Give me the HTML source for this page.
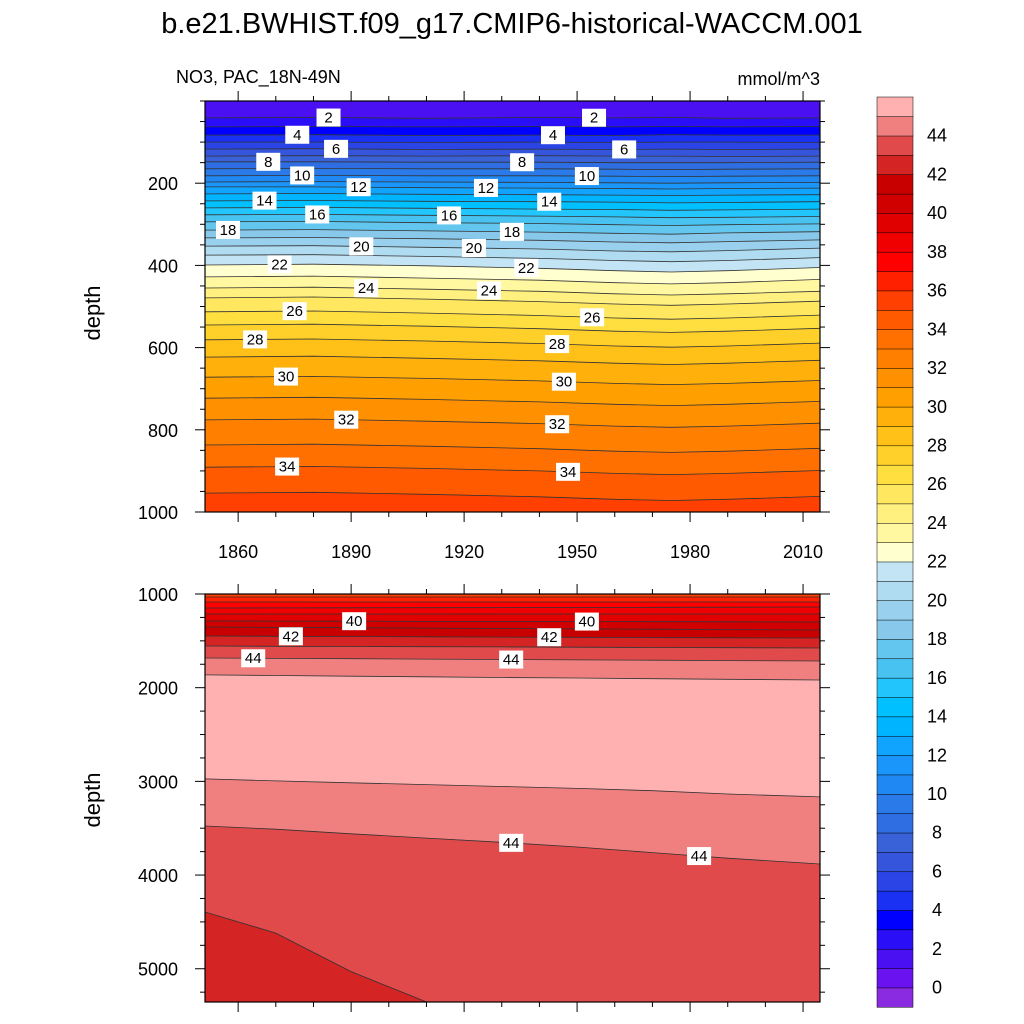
<!DOCTYPE html>
<html><head><meta charset="utf-8"><style>
body{margin:0;background:#fff;}
svg{display:block;font-family:"Liberation Sans",sans-serif;}
</style></head><body>
<svg id="chart" width="1024" height="1024" viewBox="0 0 1024 1024" xmlns="http://www.w3.org/2000/svg">
<text x="512" y="33" text-anchor="middle" font-size="29">b.e21.BWHIST.f09_g17.CMIP6-historical-WACCM.001</text>
<text x="176" y="83" font-size="18">NO3, PAC_18N-49N</text>
<text x="820" y="85" text-anchor="end" font-size="18">mmol/m^3</text>
<text transform="translate(100,313) rotate(-90)" text-anchor="middle" font-size="22">depth</text>
<text transform="translate(100,800) rotate(-90)" text-anchor="middle" font-size="22">depth</text>
<g id="gtop"></g><g id="gbot"></g><g id="cbar"></g>
</svg>
<script>
// ---- data ----
const topYears=[1850,1880,1910,1940,1960,1975,1990,2014];
const topLevels=[2,3,4,5,6,7,8,9,10,11,12,13,14,15,16,17,18,19,20,21,22,23,24,25,26,27,28,29,30,31,32,33,34,35];
const topDepths=[
[41,40,42,40,41,40,42,41],[63,62,63,62,63,62,63,62],[83,82,84,83,84,82,83,83],[100,100,101,100,101,100,100,101],
[117,116,118,117,118,117,118,117],[134,133,134,133,134,134,135,134],[148,148,149,149,150,150,150,149],[165,164,165,165,166,167,166,165],
[182,181,182,182,183,184,183,182],[197,196,197,198,199,200,199,198],[209,209,211,212,213,214,213,212],[226,225,227,228,229,230,229,228],
[243,242,244,245,246,248,247,245],[260,259,261,263,264,266,265,263],[277,276,278,280,282,284,283,281],[294,293,296,298,301,303,301,299],
[314,313,316,319,322,324,321,318],[333,332,335,339,343,345,342,338],[353,352,356,360,365,367,364,358],[375,374,378,383,388,391,388,381],
[399,397,401,407,413,416,413,405],[428,426,431,436,442,445,442,434],[455,453,458,463,469,472,469,463],[479,477,482,488,494,497,494,487],
[513,511,516,522,528,531,528,521],[545,543,548,554,560,563,560,553],[581,579,584,590,596,599,596,589],[623,621,626,632,638,641,638,631],
[672,670,675,681,687,690,687,680],[723,721,726,732,738,741,738,731],[776,774,779,785,791,794,791,784],[837,835,840,846,852,855,852,845],
[891,889,894,900,906,909,906,899],[954,952,957,963,969,972,969,962]];
const botYears=[1850,1870,1890,1910,1930,1950,1970,1990,2014];
const botLevels=[36,37,38,39,40,41,42,43,44,45];
const botDepths=[
[1032,1032,1032,1032,1032,1032,1032,1032,1032],[1085,1085,1085,1085,1085,1085,1085,1085,1085],
[1149,1148,1147,1146,1145,1144,1142,1141,1139],[1213,1213,1213,1213,1213,1213,1213,1213,1213],
[1288,1289,1290,1292,1293,1294,1296,1297,1299],[1352,1356,1360,1364,1368,1372,1376,1380,1384],
[1448,1451,1454,1457,1460,1462,1465,1467,1470],[1555,1558,1560,1563,1565,1568,1571,1573,1576],
[1683,1687,1691,1695,1699,1703,1707,1711,1715],[1864,1870,1877,1884,1891,1897,1904,1911,1918]];
const deep45=[2974,2995,3015,3035,3055,3075,3100,3135,3166];
const deep44=[3476,3510,3560,3605,3650,3700,3760,3820,3882];
const deep43=[4394,4620,5030,5354,5500,5500,5500,5500,5500];
const cbarLabels=[0,2,4,6,8,10,12,14,16,18,20,22,24,26,28,30,32,34,36,38,40,42,44];
const topLabelLevels=[2,2,4,4,6,6,8,8,10,10,12,12,14,14,16,16,18,18,20,20,22,22,24,24,26,26,28,28,30,30,32,32,34,34];
const topLabelYears=[1884,1954.5,1875.7,1943.6,1886,1962.5,1868,1935.4,1877,1952.6,1892,1925.8,1867,1942.6,1881,1916,1857.3,1932.7,1892.7,1922.6,1871,1936.5,1894,1926.6,1875,1954,1864.5,1944.7,1872.7,1946.5,1888.7,1944.7,1873,1947.6];
const botLabelLevels=[40,40,42,42,44,44];
const botLabelYears=[1890.8,1952.6,1874,1942.6,1864,1932.5];
const deepLabelYears=[1932.5,1982.4];
const colors=["#8a2be2","#6a12f0","#4a10f2","#2a0ef8","#0000ff","#1a30f2","#2a44e6","#3556dc","#3a62d8","#2e6ee2","#2a7aea","#2088f2","#1a96fa","#10a4ff","#00b4ff","#00c0ff","#22c6fc","#48c2f0","#62c6ef","#88c8ea","#98d0ee","#b0dcf2","#c2e4f4","#ffffd0","#fff8a0","#fff080","#ffe860","#ffde40","#ffd02a","#ffc018","#ffb00a","#ffa000","#ff9000","#ff8000","#ff7000","#ff5a00","#ff4000","#ff2000","#ff0000","#f00000","#e00000","#d00000","#c80000","#d42424","#e04a4a","#f08080","#ffb0b0"];

const NS="http://www.w3.org/2000/svg";
function el(p,t,a){const e=document.createElementNS(NS,t);for(const k in a)e.setAttribute(k,a[k]);p.appendChild(e);return e;}
const X0=205,X1=820,Y0yr=1851.2,Y1yr=2014.5;
function xs(y){return X0+(y-Y0yr)/(Y1yr-Y0yr)*(X1-X0);}
const pTop={y0:101,y1:512,d0:0,d1:1000}, pBot={y0:594,y1:1002,d0:1000,d1:5355};
function ys(p,d){return p.y0+(d-p.d0)/(p.d1-p.d0)*(p.y1-p.y0);}
function interp(xsArr,vals,x){for(let i=0;i<xsArr.length-1;i++){if(x<=xsArr[i+1]){const t=(x-xsArr[i])/(xsArr[i+1]-xsArr[i]);return vals[i]+t*(vals[i+1]-vals[i]);}}return vals[vals.length-1];}
function ext(years){return [Y0yr].concat(years.slice(1,-1)).concat([Y1yr]);}
function pts(p,years,d){const yy=ext(years);return yy.map((y,i)=>xs(y).toFixed(1)+","+ys(p,d[i]).toFixed(1));}
function band(g,p,years,a,b,c,name){
  const poly=el(g,"polygon",{points:pts(p,years,a).concat(pts(p,years,b).reverse()).join(" "),fill:c,stroke:c,"stroke-width":0.5});
  
  
}
function line(g,p,years,d,name){
  const l=el(g,"polyline",{points:pts(p,years,d).join(" "),fill:"none",stroke:"#333","stroke-width":0.8});
  
  
}
function label(g,p,years,d,yr,txt){
  const x=xs(yr),y=ys(p,interp(years,d,yr));
  const r=el(g,"rect",{x:x-12,y:y-9,width:24,height:18,fill:"#fff"});
  
  
  const t=el(g,"text",{x:x,y:y+5,"text-anchor":"middle","font-size":15});
  
  
  t.textContent=txt;
}
function clip(id,p){const c=el(document.getElementById("chart"),"clipPath",{id:id});el(c,"rect",{x:X0,y:p.y0,width:X1-X0,height:p.y1-p.y0});}
clip("ct",pTop);clip("cb",pBot);

// ---- top panel ----
const gT=document.getElementById("gtop");
const gTc=el(gT,"g",{"clip-path":"url(#ct)"});
const n8=topYears.map(()=>-50), n8b=topYears.map(()=>1100);
band(gTc,pTop,topYears,n8,topDepths[0],colors[2],"band-1");
for(let i=0;i<topLevels.length-1;i++)band(gTc,pTop,topYears,topDepths[i],topDepths[i+1],colors[topLevels[i]+1],"band-"+topLevels[i]);
band(gTc,pTop,topYears,topDepths[topDepths.length-1],n8b,colors[36],"band-35");
topLevels.forEach((L,i)=>line(gTc,pTop,topYears,topDepths[i],"contour-"+L));
topLabelLevels.forEach((L,i)=>label(gT,pTop,topYears,topDepths[topLevels.indexOf(L)],topLabelYears[i],String(L)));

// ---- bottom panel ----
const gB=document.getElementById("gbot");
const gBc=el(gB,"g",{"clip-path":"url(#cb)"});
const m9=botYears.map(()=>900), m9b=botYears.map(()=>6000);
band(gBc,pBot,botYears,m9,botDepths[0],colors[36],"band-35-deep");
for(let i=0;i<botLevels.length-1;i++)band(gBc,pBot,botYears,botDepths[i],botDepths[i+1],colors[botLevels[i]+1],"band-"+botLevels[i]);
band(gBc,pBot,botYears,botDepths[botDepths.length-1],deep45,colors[46],"band-above-45");
band(gBc,pBot,botYears,deep45,deep44,colors[45],"band-44-deep");
band(gBc,pBot,botYears,deep44,deep43,colors[44],"band-43-deep");
band(gBc,pBot,botYears,deep43,m9b,colors[43],"band-42-deep");
botLevels.forEach((L,i)=>line(gBc,pBot,botYears,botDepths[i],"contour-"+L));
line(gBc,pBot,botYears,deep45,"contour-45-deep");
line(gBc,pBot,botYears,deep44,"contour-44-deep");
line(gBc,pBot,botYears,deep43,"contour-43-deep");
botLabelLevels.forEach((L,i)=>label(gB,pBot,botYears,botDepths[botLevels.indexOf(L)],botLabelYears[i],String(L)));
deepLabelYears.forEach(yr=>label(gB,pBot,botYears,deep44,yr,"44"));

// ---- axes ----
function axes(g,p,majors,minorStep,showX,nm){
  const f=el(g,"rect",{x:X0,y:p.y0,width:X1-X0,height:p.y1-p.y0,fill:"none",stroke:"#000","stroke-width":1.2});
  
  
  for(let yr=1860;yr<=2010;yr+=10){
    const x=xs(yr),L=(yr-1860)%30===0?10:5;
    el(g,"line",{x1:x,x2:x,y1:p.y0,y2:p.y0-L,stroke:"#000"});
    el(g,"line",{x1:x,x2:x,y1:p.y1,y2:p.y1+L,stroke:"#000"});
    if(showX&&L===10){const t=el(g,"text",{x:x,y:p.y1+46,"text-anchor":"middle","font-size":18});
      
      
      t.textContent=yr;}
  }
  for(let d=p.d0;d<=p.d1;d+=minorStep){
    const y=ys(p,d),maj=majors.includes(d),L=maj?10:5;
    el(g,"line",{x1:X0,x2:X0-L,y1:y,y2:y,stroke:"#000"});
    el(g,"line",{x1:X1,x2:X1+L,y1:y,y2:y,stroke:"#000"});
    if(maj){const t=el(g,"text",{x:178,y:y+7,"text-anchor":"end","font-size":18});
      
      
      t.textContent=d;}
  }
}
axes(gT,pTop,[200,400,600,800,1000],50,true,"top");
axes(gB,pBot,[1000,2000,3000,4000,5000],250,false,"bottom");

// ---- colorbar ----
const gC=document.getElementById("cbar");
const cx=877,cw=36,cy0=97,bh=910/47;
colors.forEach((c,i)=>{
  const r=el(gC,"rect",{x:cx,y:cy0+(46-i)*bh,width:cw,height:bh+0.3,fill:c,stroke:"#000","stroke-width":0.5});
  
  
});
cbarLabels.forEach(v=>{
  const y=cy0+(46-(v+1))*bh+bh;
  const t=el(gC,"text",{x:937,y:y+6,"text-anchor":"middle","font-size":18});
  
  
  t.textContent=v;
});
</script>
</body></html>
